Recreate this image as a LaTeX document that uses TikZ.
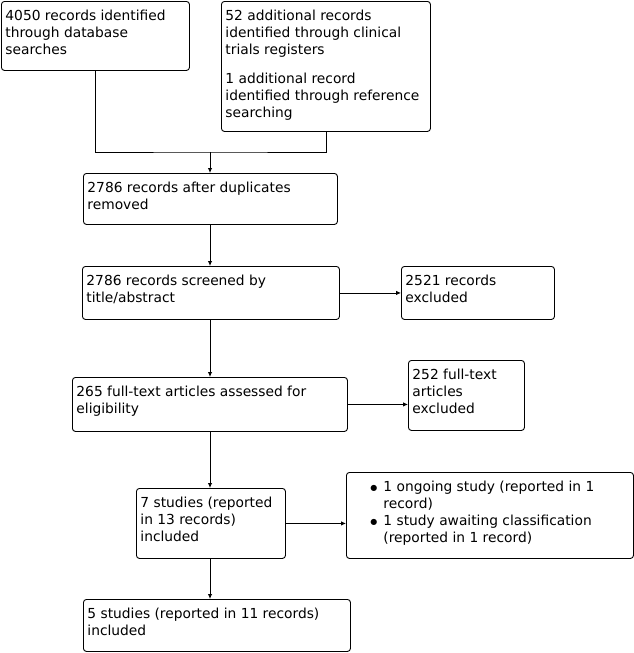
\documentclass[tikz,border=0pt]{standalone}
\usepackage{fontspec}
\setmainfont{DejaVu Sans}
\usetikzlibrary{arrows.meta,positioning}

\newcommand{\boxtext}[3]{\parbox[c][#2][t]{#1}{\leftskip=4pt\rule{0pt}{19pt}#3}}
\newcommand{\bul}{\hspace*{20pt}\makebox[13pt][l]{\raisebox{1pt}{\fontsize{8}{8}\selectfont ●}}}

\begin{document}
\begin{tikzpicture}[x=1pt,y=-1pt,
    box/.style={draw,line width=0.9pt,rounded corners=3pt,anchor=north west,inner sep=0pt,
                font=\fontsize{13.8}{17}\selectfont},
    arr/.style={line width=0.9pt,-{Latex[length=5pt,width=4.5pt]}}]
  \useasboundingbox (0,0) rectangle (634,653);

  % identification
  \node[box] (dbrec) at (1,1)
    {\boxtext{188pt}{69pt}{4050 records identified\\through database\\searches}};
  \node[box] (regrec) at (221,1)
    {\boxtext{209pt}{130pt}{52 additional records\\identified through clinical\\trials registers\\[12pt]
     1 additional record\\identified through reference\\searching}};
  \coordinate (mrg) at (210,152);

  % screening
  \node[box] (dedup) at (83,173)
    {\boxtext{254pt}{51pt}{2786 records after duplicates\\removed}};
  \node[box] (screen) at (82,266)
    {\boxtext{257pt}{53pt}{2786 records screened by\\title/abstract}};
  \node[box] (excl) at (401,266)
    {\boxtext{153pt}{53pt}{2521 records\\excluded}};

  % eligibility
  \node[box] (fulltext) at (72,377)
    {\boxtext{275pt}{54pt}{265 full-text articles assessed for\\eligibility}};
  \node[box] (ftexcl) at (408,360)
    {\boxtext{116pt}{70pt}{252 full-text\\articles\\excluded}};

  % included
  \node[box] (incl) at (136,488)
    {\boxtext{149pt}{70pt}{7 studies (reported\\in 13 records)\\included}};
  \node[box] (ongoing) at (346,472)
    {\boxtext{287pt}{86pt}{\bul 1 ongoing study (reported in 1\\\hspace*{33pt}record)\\
     \bul 1 study awaiting classification\\\hspace*{33pt}(reported in 1 record)}};
  \node[box] (final) at (83,599)
    {\boxtext{267pt}{52pt}{5 studies (reported in 11 records)\\included}};

  % connectors
  \draw[line width=0.9pt] (dbrec.south) |- (mrg) -| (regrec.south);
  \draw[arr] (mrg) -- (mrg |- dedup.north);
  \draw[arr] (mrg |- dedup.south) -- (mrg |- screen.north);
  \draw[arr] (screen.east) -- (screen.east -| excl.west);
  \draw[arr] (mrg |- screen.south) -- (mrg |- fulltext.north);
  \draw[arr] (fulltext.east) -- (fulltext.east -| ftexcl.west);
  \draw[arr] (mrg |- fulltext.south) -- (mrg |- incl.north);
  \draw[arr] (incl.east) -- (incl.east -| ongoing.west);
  \draw[arr] (mrg |- incl.south) -- (mrg |- final.north);
\end{tikzpicture}
\end{document}
